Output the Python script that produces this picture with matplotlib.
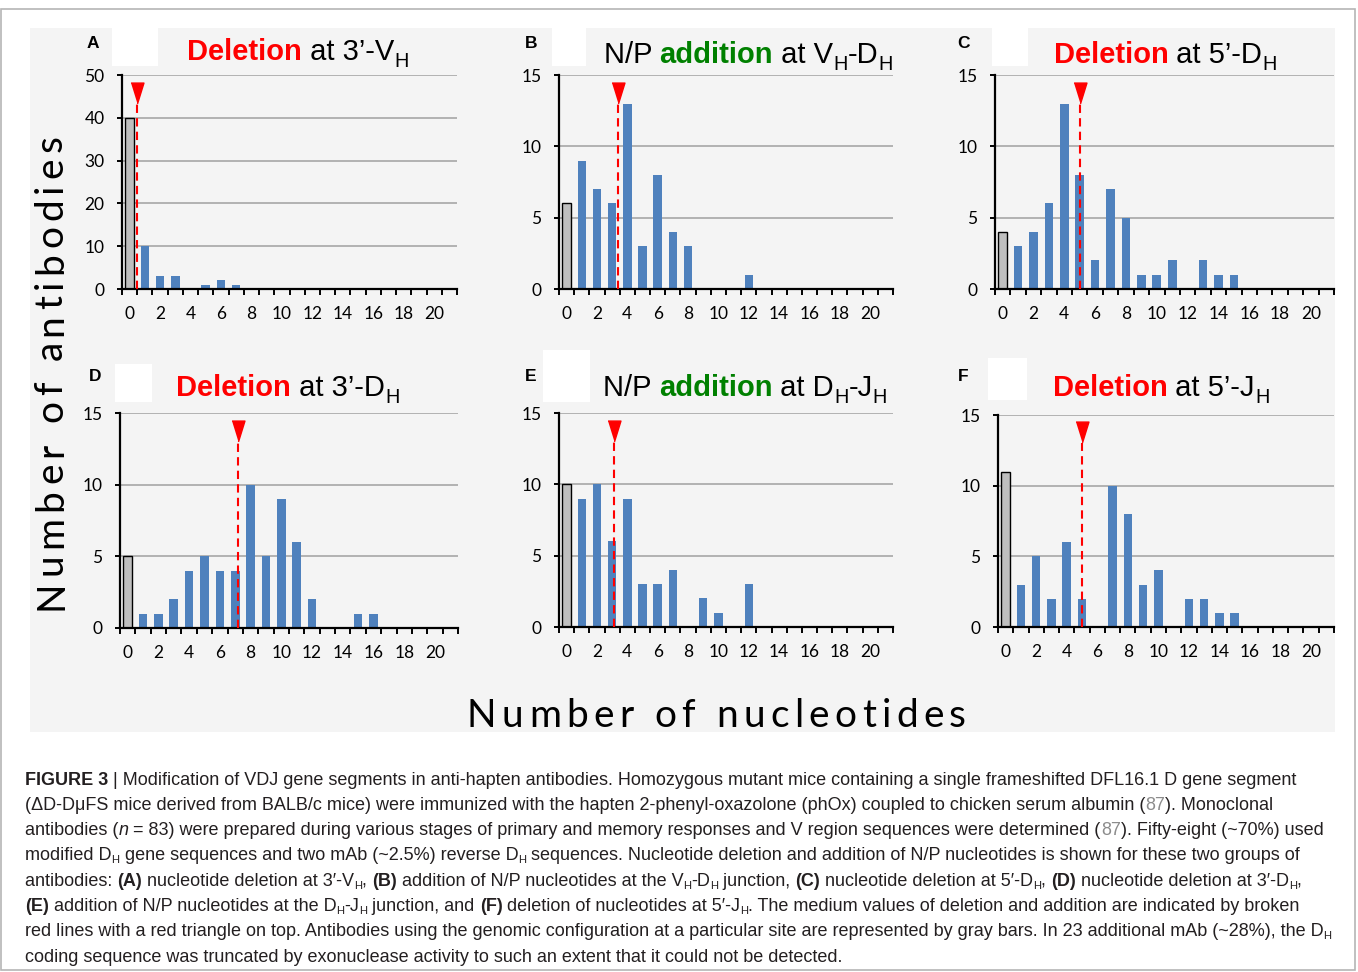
import numpy as np
import matplotlib
matplotlib.use('Agg')
import matplotlib.pyplot as plt
from matplotlib.patches import Rectangle

W, H = 1358, 972

# number of nucleotides 0..21 (0 = genomic configuration, gray bar)
nt = list(range(22))
del_3_vh = [40, 10, 3, 3, 0, 1, 2, 1, 0, 0, 0, 0, 0, 0, 0, 0, 0, 0, 0, 0, 0, 0]
add_vh_dh = [6, 9, 7, 6, 13, 3, 8, 4, 3, 0, 0, 0, 1, 0, 0, 0, 0, 0, 0, 0, 0, 0]
del_5_dh = [4, 3, 4, 6, 13, 8, 2, 7, 5, 1, 1, 2, 0, 2, 1, 1, 0, 0, 0, 0, 0, 0]
del_3_dh = [5, 1, 1, 2, 4, 5, 4, 4, 10, 5, 9, 6, 2, 0, 0, 1, 1, 0, 0, 0, 0, 0]
add_dh_jh = [10, 9, 10, 6, 9, 3, 3, 4, 0, 2, 1, 0, 3, 0, 0, 0, 0, 0, 0, 0, 0, 0]
del_5_jh = [11, 3, 5, 2, 6, 2, 0, 10, 8, 3, 4, 0, 2, 2, 1, 1, 0, 0, 0, 0, 0, 0]
medianas = [0.5, 3.4, 5.0, 7.2, 3.1, 5.0]
letras = ['A', 'B', 'C', 'D', 'E', 'F']

AZUL = '#4f81bd'
GRIS = '#bfbfbf'
ROJO = '#ff0000'
VERDE = '#008000'
FONDO = '#f4f4f4'
NARROW = ['Liberation Sans Narrow', 'Liberation Sans', 'DejaVu Sans']
SANS = ['Liberation Sans', 'DejaVu Sans']
LATO = ['Lato', 'DejaVu Sans']

fig = plt.figure(figsize=(W / 100, H / 100), dpi=100)
renderer = fig.canvas.get_renderer()


def fy(y):
    return 1 - y / H


def text_w(s, **kw):
    if not s:
        return 0.0
    t = fig.text(0, 0, s + '|', **kw)
    w1 = t.get_window_extent(renderer).width
    t.remove()
    t = fig.text(0, 0, '|', **kw)
    w2 = t.get_window_extent(renderer).width
    t.remove()
    return w1 - w2


def runs(x, y, parts, ha='left'):
    # parts: (texto, props, desplazamiento vertical en px)
    anchos = [text_w(s, **kw) for s, kw, dy in parts]
    if ha == 'center':
        x -= sum(anchos) / 2
    for (s, kw, dy), w in zip(parts, anchos):
        fig.text(x / W, fy(y + dy), s, ha='left', va='baseline', **kw)
        x += w


def spaced(x0, y0, s, largo, size, vertical=False):
    kw = dict(family=LATO, size=size, color='black')
    natural = text_w(s, **kw)
    gap = (largo - natural) / (len(s) - 1)
    for i, ch in enumerate(s):
        off = text_w(s[:i], **kw) + i * gap
        if vertical:
            fig.text(x0 / W, fy(y0 - off), ch, rotation=90, rotation_mode='anchor',
                     ha='left', va='baseline', **kw)
        else:
            fig.text((x0 + off) / W, fy(y0), ch, ha='left', va='baseline', **kw)


# marco y fondo
fig.add_artist(Rectangle((1 / W, fy(970)), 1354 / W, 961 / H, transform=fig.transFigure,
                         facecolor='white', edgecolor='#b5b5b5', lw=1.2, zorder=0))
fig.add_artist(Rectangle((30 / W, fy(732)), 1305 / W, 704 / H, transform=fig.transFigure,
                         facecolor=FONDO, edgecolor='none', zorder=0))
for x0, y0, x1, y1 in [(112, 28, 158, 66), (552, 28, 586, 66), (992, 28, 1028, 66),
                       (115, 364, 152, 402), (543, 350, 590, 402), (988, 358, 1027, 400)]:
    fig.add_artist(Rectangle((x0 / W, fy(y1)), (x1 - x0) / W, (y1 - y0) / H,
                             transform=fig.transFigure, facecolor='white', edgecolor='none',
                             zorder=0))

# posiciones de los ejes en px: izquierda, arriba, derecha, abajo
cajas = [(122, 75, 457, 289), (559, 75, 893, 289), (995, 75, 1334, 289),
         (120, 413, 458, 628), (559, 413, 893, 627), (998, 415, 1334, 627)]
datos = [del_3_vh, add_vh_dh, del_5_dh, del_3_dh, add_dh_jh, del_5_jh]
ymax = [50, 15, 15, 15, 15, 15]

for caja, vals, med, top in zip(cajas, datos, medianas, ymax):
    l, t, r, b = caja
    ax = fig.add_axes([l / W, fy(b), (r - l) / W, (b - t) / H])
    ax.set_facecolor('none')
    ax.bar(nt[1:], vals[1:], width=0.56, color=AZUL, zorder=2)
    ax.bar(nt[0], vals[0], width=0.56, color=GRIS, edgecolor='black', lw=1, zorder=2)
    ax.set_xlim(-0.5, 21.5)
    ax.set_ylim(0, top)
    ax.set_yticks(np.arange(0, top + 1, 10 if top == 50 else 5))
    ax.set_xticks(range(0, 21, 2))
    ax.set_xticks(np.arange(-0.5, 22, 1), minor=True)
    ax.tick_params(axis='x', which='major', length=0, pad=12.5, labelsize=12.5)
    ax.tick_params(axis='x', which='minor', length=4.5, width=1.4, direction='out')
    ax.tick_params(axis='y', length=3.5, width=1.4, pad=9, labelsize=12.5)
    for lab in ax.get_xticklabels() + ax.get_yticklabels():
        lab.set_family(LATO)
    ax.yaxis.grid(True, color='#a6a6a6', lw=1.2, zorder=0)
    ax.set_axisbelow(True)
    for s in ['top', 'right']:
        ax.spines[s].set_visible(False)
    for s in ['left', 'bottom']:
        ax.spines[s].set_linewidth(1.6)
    trans = ax.get_xaxis_transform()
    ax.plot([med, med], [0, 0.87], color=ROJO, lw=1.5, ls=(0, (4, 2.5)),
            transform=trans, zorder=3)
    ax.plot(med, 0.918, marker=[(-0.62, 1), (0.62, 1), (0, -1)], markersize=15,
            color=ROJO, transform=trans, zorder=4, clip_on=False)

# letras de panel
for letra, (x, y) in zip(letras, [(93, 48), (531, 48), (964, 48),
                                  (95, 381), (531, 381), (963, 381)]):
    fig.text(x / W, fy(y), letra, ha='center', va='baseline', family=SANS,
             weight='bold', size=12.5)

# titulos
TS = 21
reg = dict(family=NARROW, size=TS, color='black')
sub = dict(family=NARROW, size=TS * 0.68, color='black')
rojo = dict(family=NARROW, size=TS, color=ROJO, weight='bold')
verde = dict(family=NARROW, size=TS, color=VERDE, weight='bold')
D = 7
titulos = [
    (298, 60, [('Deletion', rojo, 0), (' at 3’-V', reg, 0), ('H', sub, D)]),
    (748, 63, [('N/P ', reg, 0), ('addition', verde, 0), (' at V', reg, 0), ('H', sub, D),
               ('-D', reg, 0), ('H', sub, D)]),
    (1165, 63, [('Deletion', rojo, 0), (' at 5’-D', reg, 0), ('H', sub, D)]),
    (288, 396, [('Deletion', rojo, 0), (' at 3’-D', reg, 0), ('H', sub, D)]),
    (745, 396, [('N/P ', reg, 0), ('addition', verde, 0), (' at D', reg, 0), ('H', sub, D),
                ('-J', reg, 0), ('H', sub, D)]),
    (1161, 396, [('Deletion', rojo, 0), (' at 5’-J', reg, 0), ('H', sub, D)]),
]
for x, y, partes in titulos:
    runs(x, y, partes, ha='center')

# etiquetas de ejes
spaced(62, 610, 'Number of antibodies', 475, 28, vertical=True)
spaced(467, 727, 'Number of nucleotides', 499, 28)

# leyenda de la figura
CS = 13
c = dict(family=SANS, size=CS, color='#231f20')
cb = dict(family=SANS, size=CS, color='#231f20', weight='bold')
ci = dict(family=SANS, size=CS, color='#231f20', style='italic')
cg = dict(family=SANS, size=CS, color='#8c8c8c')
cs = dict(family=SANS, size=CS * 0.62, color='#231f20')
S = 3
lineas = [
    [('FIGURE 3', cb, 0), (' | Modification of VDJ gene segments in anti-hapten antibodies. '
                          'Homozygous mutant mice containing a single frameshifted DFL16.1 D gene segment', c, 0)],
    [('(ΔD-DμFS mice derived from BALB/c mice) were immunized with the hapten 2-phenyl-oxazolone '
      '(phOx) coupled to chicken serum albumin (', c, 0), ('87', cg, 0), ('). Monoclonal', c, 0)],
    [('antibodies (', c, 0), ('n', ci, 0), (' = 83) were prepared during various stages of primary and '
                                            'memory responses and V region sequences were determined (', c, 0),
     ('87', cg, 0), ('). Fifty-eight (~70%) used', c, 0)],
    [('modified D', c, 0), ('H', cs, S), (' gene sequences and two mAb (~2.5%) reverse D', c, 0), ('H', cs, S),
     (' sequences. Nucleotide deletion and addition of N/P nucleotides is shown for these two groups of', c, 0)],
    [('antibodies: ', c, 0), ('(A)', cb, 0), (' nucleotide deletion at 3′-V', c, 0), ('H', cs, S), (', ', c, 0),
     ('(B)', cb, 0), (' addition of N/P nucleotides at the V', c, 0), ('H', cs, S), ('-D', c, 0), ('H', cs, S),
     (' junction, ', c, 0), ('(C)', cb, 0), (' nucleotide deletion at 5′-D', c, 0), ('H', cs, S), (', ', c, 0),
     ('(D)', cb, 0), (' nucleotide deletion at 3′-D', c, 0), ('H', cs, S), (',', c, 0)],
    [('(E)', cb, 0), (' addition of N/P nucleotides at the D', c, 0), ('H', cs, S), ('-J', c, 0), ('H', cs, S),
     (' junction, and ', c, 0), ('(F)', cb, 0), (' deletion of nucleotides at 5′-J', c, 0), ('H', cs, S),
     ('. The medium values of deletion and addition are indicated by broken', c, 0)],
    [('red lines with a red triangle on top. Antibodies using the genomic configuration at a particular '
      'site are represented by gray bars. In 23 additional mAb (~28%), the D', c, 0), ('H', cs, S)],
    [('coding sequence was truncated by exonuclease activity to such an extent that it could not be detected.', c, 0)],
]
for i, partes in enumerate(lineas):
    runs(25, 784.5 + 25.3 * i, partes)

fig.savefig('out.png', dpi=100)
